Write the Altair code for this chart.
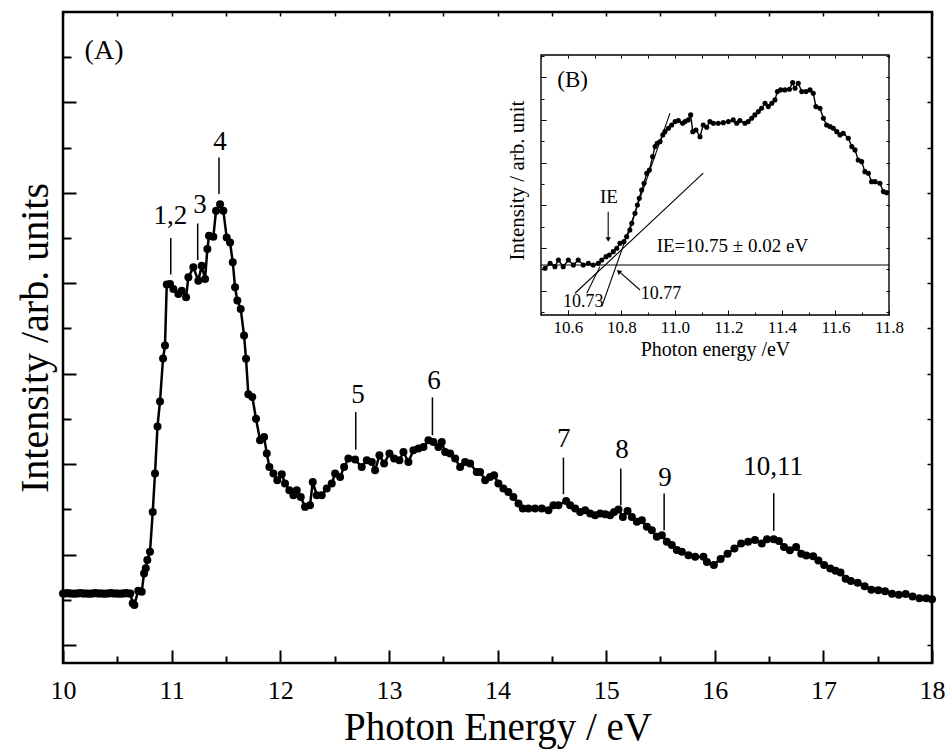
import altair as alt
import pandas as pd

# ---------------- (A) main spectrum ----------------
energy = [
    10.00, 10.02, 10.04, 10.06, 10.08, 10.10, 10.12, 10.14, 10.16, 10.18,
    10.20, 10.22, 10.24, 10.26, 10.28, 10.30, 10.32, 10.34, 10.36, 10.38,
    10.40, 10.42, 10.44, 10.46, 10.48, 10.50, 10.52, 10.54, 10.56, 10.58,
    10.60, 10.62,
    10.642, 10.657, 10.693, 10.725, 10.746, 10.762, 10.776, 10.801, 10.826, 10.847,
    10.870, 10.893, 10.921, 10.939, 10.955, 10.985, 11.016, 11.062, 11.093, 11.133,
    11.154, 11.200, 11.246, 11.277, 11.308, 11.329, 11.344, 11.384, 11.409, 11.446,
    11.476, 11.507, 11.538, 11.563, 11.584, 11.605, 11.636, 11.667, 11.685, 11.706,
    11.743, 11.777, 11.814, 11.851, 11.876, 11.900, 11.937, 11.973, 12.014, 12.044,
    12.084, 12.121, 12.152, 12.189, 12.228, 12.274, 12.299, 12.336, 12.382, 12.428,
    12.474, 12.505, 12.551, 12.588, 12.627, 12.689, 12.750, 12.797, 12.843, 12.873,
    12.913, 12.956, 13.005, 13.048, 13.097, 13.134, 13.180, 13.226, 13.272, 13.318,
    13.364, 13.410, 13.456, 13.487, 13.518, 13.564, 13.610, 13.656, 13.702, 13.748,
    13.809, 13.840, 13.886, 13.932, 13.969, 14.008, 14.054, 14.100, 14.146, 14.193,
    14.233, 14.285, 14.346, 14.408, 14.469, 14.515, 14.561, 14.632, 14.669, 14.715,
    14.761, 14.807, 14.853, 14.899, 14.945, 14.991, 15.037, 15.074, 15.114, 15.154,
    15.197, 15.237, 15.283, 15.329, 15.375, 15.421, 15.467, 15.513, 15.559, 15.605,
    15.651, 15.697, 15.758, 15.820, 15.896, 15.928, 15.992, 16.054, 16.118, 16.181,
    16.243, 16.307, 16.370, 16.433, 16.481, 16.543, 16.591, 16.638, 16.692, 16.749,
    16.796, 16.843, 16.906, 16.954, 17.007, 17.064, 17.112, 17.158, 17.205, 17.253,
    17.316, 17.380, 17.442, 17.506, 17.568, 17.632, 17.694, 17.758, 17.821, 17.884,
    17.947, 18.000,
]
intensity = [
    0.57, 0.57, 0.575, 0.57, 0.57, 0.565, 0.57, 0.57, 0.575, 0.57,
    0.57, 0.57, 0.565, 0.57, 0.57, 0.575, 0.57, 0.57, 0.57, 0.565,
    0.57, 0.57, 0.575, 0.57, 0.57, 0.57, 0.565, 0.57, 0.57, 0.575,
    0.57, 0.57,
    0.460, 0.442, 0.600, 0.589, 0.791, 0.847, 0.938, 1.030, 1.471, 1.895,
    2.417, 2.693, 3.168, 3.311, 3.985, 3.992, 3.937, 3.882, 3.918, 3.845,
    4.065, 4.176, 4.029, 4.194, 4.048, 4.379, 4.526, 4.515, 4.801, 4.875,
    4.801, 4.507, 4.452, 4.231, 3.955, 3.808, 3.716, 3.422, 3.164, 2.771,
    2.741, 2.502, 2.263, 2.299, 2.116, 1.968, 1.895, 1.821, 1.887, 1.785,
    1.711, 1.656, 1.711, 1.637, 1.527, 1.545, 1.803, 1.656, 1.656, 1.730,
    1.785, 1.895, 1.858, 1.968, 2.061, 2.050, 1.968, 2.042, 2.023, 1.932,
    2.097, 2.006, 2.116, 2.061, 2.042, 2.134, 2.023, 2.152, 2.171, 2.189,
    2.263, 2.244, 2.189, 2.244, 2.134, 2.116, 2.061, 1.968, 2.023, 2.006,
    1.913, 1.913, 1.821, 1.858, 1.876, 1.785, 1.730, 1.692, 1.637, 1.564,
    1.509, 1.509, 1.509, 1.509, 1.490, 1.545, 1.545, 1.593, 1.545, 1.509,
    1.471, 1.490, 1.454, 1.435, 1.454, 1.446, 1.435, 1.471, 1.498, 1.416,
    1.482, 1.416, 1.361, 1.380, 1.306, 1.269, 1.195, 1.214, 1.140, 1.104,
    1.049, 1.030, 0.993, 0.975, 0.975, 0.916, 0.885, 0.951, 1.009, 1.065,
    1.121, 1.140, 1.159, 1.121, 1.170, 1.170, 1.148, 1.084, 1.046, 1.084,
    1.009, 0.990, 0.982, 0.933, 0.883, 0.846, 0.819, 0.800, 0.733, 0.706,
    0.688, 0.649, 0.611, 0.604, 0.593, 0.566, 0.555, 0.563, 0.536, 0.517,
    0.517, 0.506,
]

peak_names = ["1,2", "3", "4", "5", "6", "7", "8", "9", "10,11"]
peak_energy = [10.992, 11.240, 11.436, 12.695, 13.401, 14.607, 15.135, 15.534, 16.543]
peak_text_energy = [10.988, 11.262, 11.446, 12.716, 13.416, 14.609, 15.147, 15.543, 16.538]
peak_text_level = [4.746, 4.868, 5.563, 2.759, 2.914, 2.274, 2.152, 1.843, 1.965]
peak_mark_top = [4.500, 4.661, 5.390, 2.575, 2.737, 2.072, 1.950, 1.674, 1.678]
peak_mark_bottom = [4.098, 4.257, 4.986, 2.160, 2.318, 1.667, 1.545, 1.269, 1.262]

main_x_major = [10, 11, 12, 13, 14, 15, 16, 17, 18]
main_x_minor = [10.5, 11.5, 12.5, 13.5, 14.5, 15.5, 16.5, 17.5]
main_y_major = [0, 1, 2, 3, 4, 5, 6]
main_y_minor = [0.5, 1.5, 2.5, 3.5, 4.5, 5.5, 6.5]

# ---------------- (B) inset: threshold region ----------------
inset_energy = [
    10.515, 10.534, 10.552, 10.565, 10.583, 10.602, 10.621, 10.639, 10.658, 10.677,
    10.695, 10.714, 10.727, 10.743, 10.755, 10.770, 10.783, 10.795, 10.810, 10.820,
    10.832, 10.839, 10.851, 10.860, 10.867, 10.876, 10.885, 10.895, 10.905, 10.917,
    10.926, 10.934, 10.945, 10.955, 10.963, 10.976, 10.988, 11.001, 11.013, 11.029,
    11.038, 11.050, 11.059, 11.067, 11.079, 11.094, 11.106, 11.119, 11.131, 11.144,
    11.162, 11.181, 11.200, 11.218, 11.231, 11.243, 11.262, 11.274, 11.287, 11.299,
    11.312, 11.324, 11.337, 11.349, 11.362, 11.374, 11.383, 11.395, 11.411, 11.428,
    11.440, 11.449, 11.461, 11.474, 11.490, 11.505, 11.517, 11.527, 11.542, 11.555,
    11.567, 11.580, 11.592, 11.605, 11.617, 11.629, 11.648, 11.661, 11.673, 11.685,
    11.698, 11.710, 11.723, 11.735, 11.748, 11.766, 11.779, 11.791,
]
inset_intensity = [
    1.525, 1.642, 1.562, 1.719, 1.562, 1.719, 1.602, 1.719, 1.602, 1.642,
    1.602, 1.642, 1.719, 1.797, 1.836, 1.914, 1.993, 2.111, 2.148, 2.265,
    2.422, 2.579, 2.813, 3.008, 3.165, 3.359, 3.516, 3.751, 3.828, 4.140,
    4.374, 4.454, 4.491, 4.648, 4.725, 4.805, 4.882, 4.960, 4.983, 4.922,
    4.960, 5.000, 5.117, 4.725, 4.765, 4.608, 4.882, 4.828, 4.960, 4.922,
    4.922, 4.936, 4.960, 5.000, 4.922, 4.983, 4.922, 4.960, 5.039, 5.117,
    5.194, 5.274, 5.391, 5.311, 5.391, 5.468, 5.663, 5.703, 5.703, 5.719,
    5.873, 5.742, 5.859, 5.663, 5.663, 5.703, 5.625, 5.311, 5.274, 5.039,
    4.882, 4.843, 4.805, 4.725, 4.648, 4.688, 4.571, 4.374, 4.297, 4.062,
    4.022, 3.788, 3.751, 3.554, 3.554, 3.516, 3.320, 3.296,
]

# threshold construction: baseline, two tangents, pointers
seg_x1 = [10.5, 10.727, 10.627, 10.671, 10.870, 10.751]
seg_y1 = [1.602, 0.625, 0.939, 0.939, 1.016, 2.851]
seg_x2 = [11.8, 10.982, 11.106, 10.720, 10.793, 10.751]
seg_y2 = [1.602, 5.157, 3.751, 1.563, 1.440, 2.230]

inset_x_major = [10.6, 10.8, 11.0, 11.2, 11.4, 11.6, 11.8]
inset_x_minor = [10.5, 10.7, 10.9, 11.1, 11.3, 11.5, 11.7]
inset_y_major = [1, 2, 3, 4, 5, 6]
inset_y_minor = [0.5, 1.5, 2.5, 3.5, 4.5, 5.5, 6.5]

# ---------------- layout / styles ----------------
W, H = 869, 651
FONT = "Liberation Serif"
MX = alt.Scale(domain=[10, 18], nice=False, zero=False)
MY = alt.Scale(domain=[-0.2, 7.0], nice=False, zero=False)
IX = alt.Scale(domain=[10.5, 11.8], range=[478, 826], nice=False, zero=False)
IY = alt.Scale(domain=[0.43, 6.52], range=[303, 43], nice=False, zero=False)


def tick_axis(orient, values, size, offset, width):
    return alt.Axis(orient=orient, values=values, tickSize=size, tickWidth=width,
                    tickColor="black", offset=offset, labels=False, domain=False,
                    grid=False, title=None, ticks=True, zindex=1)


def tick_layer(xs, ys, xaxis, yaxis, x0, y0):
    df = pd.DataFrame({"tx": [x0], "ty": [y0]})
    return alt.Chart(df).mark_point(opacity=0).encode(
        x=alt.X("tx:Q", scale=xs, axis=xaxis),
        y=alt.Y("ty:Q", scale=ys, axis=yaxis),
    )


layers = []

# main curve (line) carrying the labelled axes
main_df = pd.DataFrame({"energy": energy, "intensity": intensity})
x_main_axis = alt.Axis(
    orient="bottom", values=main_x_major, format="d", ticks=False, domain=False,
    grid=False, labelFont=FONT, labelFontSize=26, labelColor="black",
    labelPadding=27, labelBaseline="middle", labelFlush=False, labelOverlap=False,
    title="Photon Energy / eV", titleFont=FONT, titleFontSize=39,
    titleFontWeight="normal", titleColor="black", titleY=64, titleBaseline="middle",
)
y_main_axis = alt.Axis(
    orient="left", labels=False, ticks=False, domain=False, grid=False,
    title="Intensity /arb. units", titleFont=FONT, titleFontSize=40,
    titleFontWeight="normal", titleColor="black", titleX=-28, titleAngle=270,
    titleBaseline="middle",
)
layers.append(
    alt.Chart(main_df).mark_line(color="black", strokeWidth=2.5).encode(
        x=alt.X("energy:Q", scale=MX, axis=x_main_axis),
        y=alt.Y("intensity:Q", scale=MY, axis=y_main_axis),
    )
)
layers.append(
    alt.Chart(main_df).mark_point(filled=True, color="black", size=64, opacity=1).encode(
        x=alt.X("energy:Q", scale=MX, axis=None),
        y=alt.Y("intensity:Q", scale=MY, axis=None),
    )
)

# inward ticks of the main frame
layers.append(tick_layer(MX, MY, tick_axis("top", main_x_major, 13, -H, 2),
                         tick_axis("right", main_y_major, 13, -W, 2), 10, 0))
layers.append(tick_layer(MX, MY, tick_axis("top", main_x_minor, 7, -H, 2),
                         tick_axis("right", main_y_minor, 8, -W, 2), 10, 0))
layers.append(tick_layer(MX, MY,
                         tick_axis("bottom", sorted(main_x_major + main_x_minor), 4, -H, 1.5),
                         tick_axis("left", sorted(main_y_major + main_y_minor), 5, -W, 1.5),
                         10, 0))

# peak markers
peak_df = pd.DataFrame({
    "name": peak_names, "e": peak_energy, "te": peak_text_energy,
    "tl": peak_text_level, "top": peak_mark_top, "bot": peak_mark_bottom,
})
layers.append(
    alt.Chart(peak_df).mark_rule(color="black", strokeWidth=1.5).encode(
        x=alt.X("e:Q", scale=MX, axis=None),
        y=alt.Y("bot:Q", scale=MY, axis=None),
        y2="top:Q",
    )
)
layers.append(
    alt.Chart(peak_df).mark_text(font=FONT, fontSize=27, color="black",
                                 align="center", baseline="middle").encode(
        x=alt.X("te:Q", scale=MX, axis=None),
        y=alt.Y("tl:Q", scale=MY, axis=None),
        text="name:N",
    )
)
layers.append(
    alt.Chart(pd.DataFrame({"t": ["(A)"], "x": [10.378], "y": [6.567]})).mark_text(
        font=FONT, fontSize=28, color="black", align="center", baseline="middle").encode(
        x=alt.X("x:Q", scale=MX, axis=None),
        y=alt.Y("y:Q", scale=MY, axis=None),
        text="t:N",
    )
)

# ---------------- inset ----------------
frame_df = pd.DataFrame({"x0": [10.5], "x1": [11.8], "y0": [0.43], "y1": [6.52]})
x_inset_axis = alt.Axis(
    orient="bottom", values=inset_x_major, format=".1f", ticks=False, domain=False,
    grid=False, offset=-(H - 303), labelFont=FONT, labelFontSize=17,
    labelColor="black", labelPadding=12, labelBaseline="middle", labelFlush=False,
    labelOverlap=False, title="Photon energy /eV", titleFont=FONT, titleFontSize=20,
    titleFontWeight="normal", titleColor="black", titleY=34, titleBaseline="middle",
    zindex=1,
)
y_inset_axis = alt.Axis(
    orient="left", labels=False, ticks=False, domain=False, grid=False, offset=-478,
    title="Intensity / arb. unit", titleFont=FONT, titleFontSize=21,
    titleFontWeight="normal", titleColor="black", titleX=-24, titleY=168,
    titleAngle=270, titleBaseline="middle", zindex=1,
)
layers.append(
    alt.Chart(frame_df).mark_rect(fill="white", stroke="black", strokeWidth=1.4).encode(
        x=alt.X("x0:Q", scale=IX, axis=x_inset_axis), x2="x1:Q",
        y=alt.Y("y0:Q", scale=IY, axis=y_inset_axis), y2="y1:Q",
    )
)
layers.append(tick_layer(IX, IY, tick_axis("top", inset_x_major, 5, -303, 1),
                         tick_axis("right", inset_y_major, 5, -(W - 478), 1), 10.5, 1))
layers.append(tick_layer(IX, IY, tick_axis("top", inset_x_minor, 3, -303, 1),
                         tick_axis("right", inset_y_minor, 3, -(W - 478), 1), 10.5, 1))
layers.append(tick_layer(IX, IY,
                         tick_axis("bottom", sorted(inset_x_major + inset_x_minor), 3, -(H - 43), 1),
                         tick_axis("left", sorted(inset_y_major + inset_y_minor), 3, -826, 1),
                         10.5, 1))

seg_df = pd.DataFrame({"x1": seg_x1, "y1": seg_y1, "x2": seg_x2, "y2": seg_y2})
layers.append(
    alt.Chart(seg_df).mark_rule(color="black", strokeWidth=1.1).encode(
        x=alt.X("x1:Q", scale=IX, axis=None), x2="x2:Q",
        y=alt.Y("y1:Q", scale=IY, axis=None), y2="y2:Q",
    )
)
inset_df = pd.DataFrame({"e": inset_energy, "i": inset_intensity})
layers.append(
    alt.Chart(inset_df).mark_line(color="black", strokeWidth=1.4).encode(
        x=alt.X("e:Q", scale=IX, axis=None),
        y=alt.Y("i:Q", scale=IY, axis=None),
    )
)
layers.append(
    alt.Chart(inset_df).mark_point(filled=True, color="black", size=26, opacity=1).encode(
        x=alt.X("e:Q", scale=IX, axis=None),
        y=alt.Y("i:Q", scale=IY, axis=None),
    )
)
# arrow heads
layers.append(
    alt.Chart(pd.DataFrame({"x": [10.751], "y": [2.20]})).mark_point(
        shape="triangle-down", filled=True, color="black", size=28, opacity=1).encode(
        x=alt.X("x:Q", scale=IX, axis=None), y=alt.Y("y:Q", scale=IY, axis=None))
)
layers.append(
    alt.Chart(pd.DataFrame({"x": [10.790], "y": [1.450]})).mark_point(
        shape="triangle-up", filled=True, color="black", size=28, angle=311, opacity=1).encode(
        x=alt.X("x:Q", scale=IX, axis=None), y=alt.Y("y:Q", scale=IY, axis=None))
)


def inset_text(txt, x, y, size):
    return alt.Chart(pd.DataFrame({"t": [txt], "x": [x], "y": [y]})).mark_text(
        font=FONT, fontSize=size, color="black", align="center", baseline="middle").encode(
        x=alt.X("x:Q", scale=IX, axis=None),
        y=alt.Y("y:Q", scale=IY, axis=None),
        text="t:N",
    )


layers.append(inset_text("(B)", 10.618, 5.937, 23))
layers.append(inset_text("IE", 10.754, 3.184, 19))
layers.append(inset_text("IE=10.75 ± 0.02 eV", 11.215, 2.047, 19))
layers.append(inset_text("10.73", 10.658, 0.735, 18))
layers.append(inset_text("10.77", 10.948, 0.923, 18))

chart = (
    alt.layer(*layers)
    .resolve_scale(x="independent", y="independent")
    .properties(
        width=W, height=H,
        padding={"left": 63, "top": 12, "right": 17, "bottom": 87},
        autosize=alt.AutoSizeParams(type="none"),
        background="white",
    )
    .configure_view(stroke="black", strokeWidth=2.5)
)

chart.save("out.html", embed_options={"renderer": "svg", "actions": False})
